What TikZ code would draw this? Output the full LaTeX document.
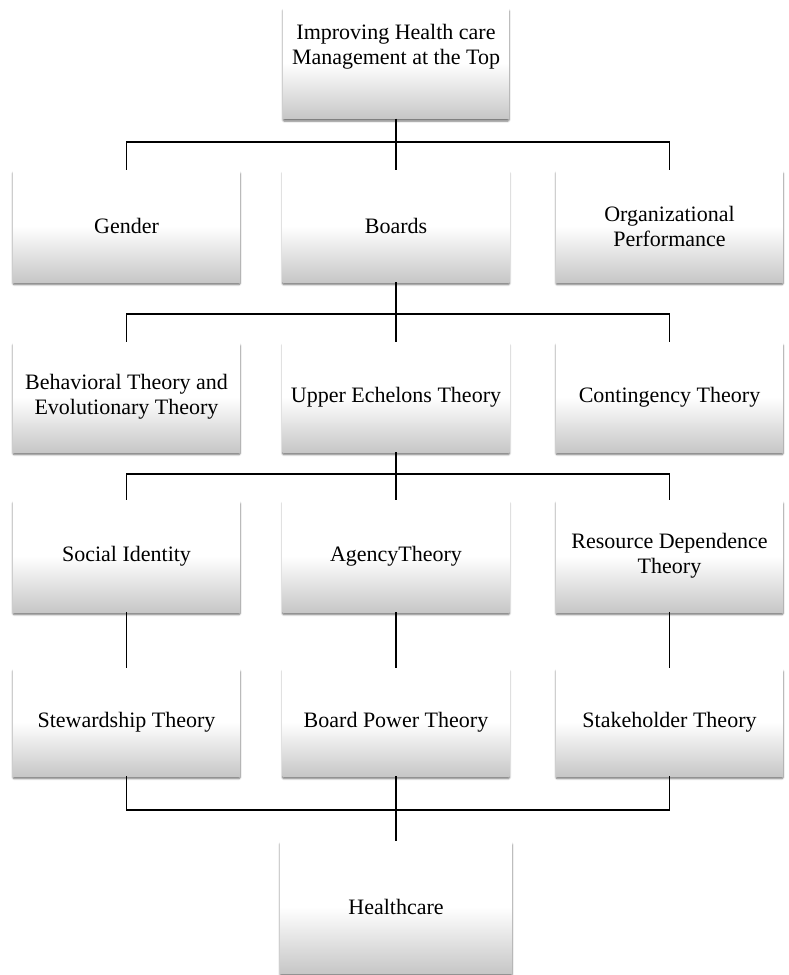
\documentclass[tikz,border=0pt]{standalone}
\usepackage{fontspec}
\setmainfont{Liberation Serif}
\usetikzlibrary{shadows.blur}
\tikzset{
  box/.style={inner sep=0pt, align=center, font=\fontsize{22}{25}\selectfont,
    top color=white, bottom color=black!22, middle color=white,
    blur shadow={shadow xshift=0pt, shadow yshift=-2.5pt, shadow blur steps=6, shadow blur extra rounding=1pt, shadow opacity=55}},
  wide/.style={minimum width=227pt, minimum height=112pt},
  conn/.style={line width=1.4pt, black},
  label/.style={inner sep=0pt, align=center, font=\fontsize{22}{25}\selectfont}
}
\begin{document}
\begin{tikzpicture}[x=1pt,y=-1pt]
\useasboundingbox (0,0) rectangle (788,975);
% top
\node[box, minimum width=226pt, minimum height=111pt] (top) at (396,63) {};
\node[label] (toptext) at (396,47) {Improving Health care\\Management at the Top};
% row 2
\node[box, wide] (gender) at (126.5,226) {Gender};
\node[box, wide] (boards) at (396,226) {Boards};
\node[box, wide] (org) at (669.5,226) {Organizational\\Performance};
% row 3
\node[box, wide, minimum height=110pt] (behav) at (126.5,397) {Behavioral Theory and\\Evolutionary Theory};
\node[box, wide, minimum height=110pt] (upper) at (396,397) {Upper Echelons Theory};
\node[box, wide, minimum height=110pt] (conting) at (669.5,397) {Contingency Theory};
% row 4
\node[box, wide] (social) at (126.5,556) {Social Identity};
\node[box, wide] (agency) at (396,556) {AgencyTheory};
\node[box, wide] (resource) at (669.5,556) {Resource Dependence\\Theory};
% row 5
\node[box, wide, minimum height=108pt] (steward) at (126.5,722) {Stewardship Theory};
\node[box, wide, minimum height=108pt] (bpower) at (396,722) {Board Power Theory};
\node[box, wide, minimum height=108pt] (stake) at (669.5,722) {Stakeholder Theory};
% bottom
\node[box, minimum width=232pt, minimum height=132pt] (health) at (396,907) {Healthcare};

% connectors
\coordinate (j1) at (396,142);
\coordinate (j2) at (396,314);
\coordinate (j3) at (396,474);
\coordinate (j4) at (396,810);
\draw[conn] (top.south) -- (j1);
\draw[conn] (gender.north) -- (gender.north |- j1) -- (org.north |- j1) -- (org.north);
\draw[conn] (j1) -- (boards.north);
\draw[conn] (boards.south) -- (j2);
\draw[conn] (behav.north) -- (behav.north |- j2) -- (conting.north |- j2) -- (conting.north);
\draw[conn] (j2) -- (upper.north);
\draw[conn] (upper.south) -- (j3);
\draw[conn] (social.north) -- (social.north |- j3) -- (resource.north |- j3) -- (resource.north);
\draw[conn] (j3) -- (agency.north);
\draw[conn] (social.south) -- (steward.north);
\draw[conn] (agency.south) -- (bpower.north);
\draw[conn] (resource.south) -- (stake.north);
\draw[conn] (steward.south) -- (steward.south |- j4) -- (stake.south |- j4) -- (stake.south);
\draw[conn] (bpower.south) -- (j4) -- (health.north);
\end{tikzpicture}
\end{document}
